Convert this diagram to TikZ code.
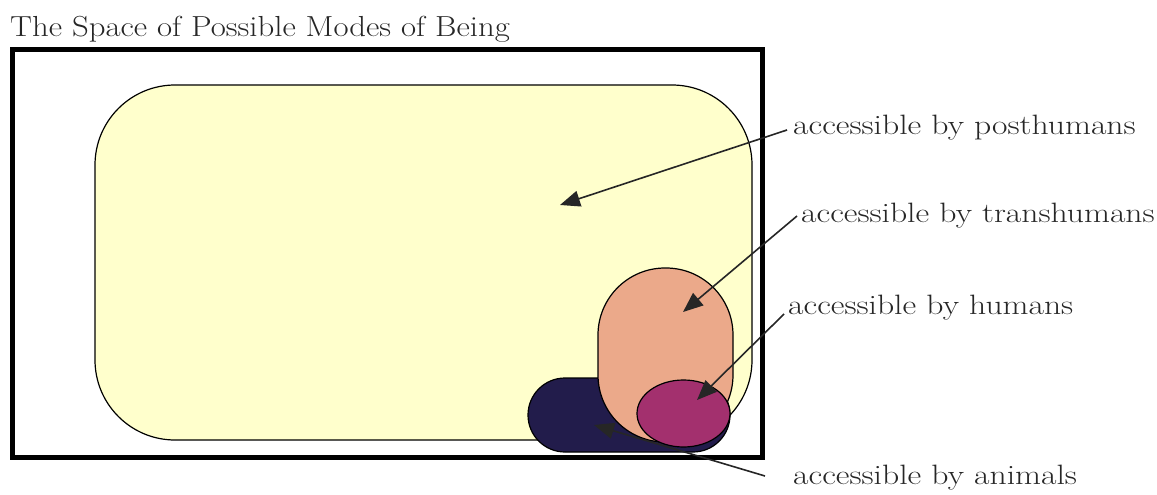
\documentclass[tikz,border=0pt]{standalone}
\usetikzlibrary{arrows.meta,shapes.geometric}
\definecolor{postyellow}{HTML}{FFFFCC}
\definecolor{transpeach}{HTML}{EBA98A}
\definecolor{humanmag}{HTML}{A3306E}
\definecolor{animalnavy}{HTML}{221C4B}
\newcommand{\widetext}[2]{\scalebox{#1}[1]{#2}}
\tikzset{
  lbl/.style={anchor=west, inner sep=0pt, text=black!85, font=\fontsize{28}{32}\selectfont},
  pointer/.style={draw=black!85, line width=1.6pt, -{Triangle[length=20pt,width=16pt]}},
  region/.style={draw=black, line width=1.2pt}
}
\begin{document}
\begin{tikzpicture}[x=1pt,y=-1pt]
\useasboundingbox (0,0) rectangle (1157,495);
\node[anchor=west, inner sep=0pt, text=black!85, font=\fontsize{29}{32}\selectfont] (title) at (10,29) {\widetext{1.13}{The Space of Possible Modes of Being}};
\draw[line width=5pt] (12,50) rectangle (762,457);
\draw[region, fill=postyellow, rounded corners=80pt] (95,85) rectangle (752,440);
\draw[region, fill=animalnavy, rounded corners=37pt] (528,378) rectangle (730,452);
\draw[region, fill=transpeach, rounded corners=67pt] (598,268) rectangle (733,442);
\node[region, fill=humanmag, ellipse, minimum width=93pt, minimum height=67pt, inner sep=0pt] (hum) at (683.5,413.5) {};
\coordinate (posttip) at (560,205);
\coordinate (transtip) at (683,312);
\coordinate (humtip) at (697,400);
\coordinate (animtip) at (594,425);
\node[lbl] (lpost) at (793,128) {\widetext{1.2}{accessible by posthumans}};
\node[lbl] (ltrans) at (801,216) {\widetext{1.2}{accessible by transhumans}};
\node[lbl] (lhum) at (788,308) {\widetext{1.2}{accessible by humans}};
\node[lbl] (lanim) at (793,478) {\widetext{1.2}{accessible by animals}};
\draw[pointer] (lpost.west) ++(-6,2) -- (posttip);
\draw[pointer] (ltrans.west) ++(-4,0) -- (transtip);
\draw[pointer] (lhum.west) ++(-4,6) -- (humtip);
\draw[pointer] (lanim.west) ++(-28,-2) -- (animtip);
\end{tikzpicture}
\end{document}
